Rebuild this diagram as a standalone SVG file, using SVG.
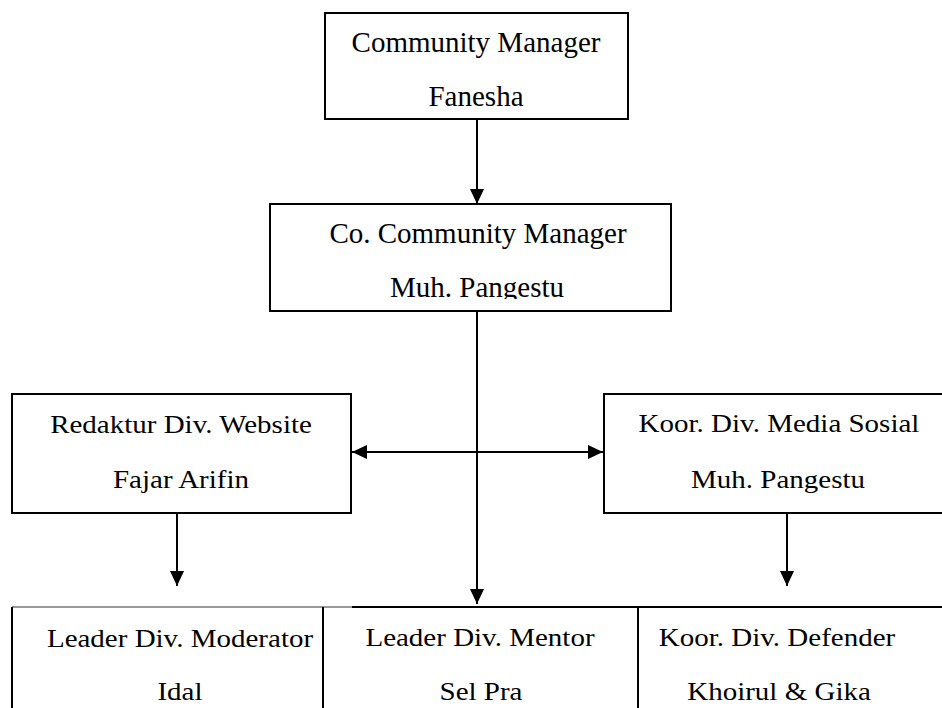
<svg xmlns="http://www.w3.org/2000/svg" width="942" height="708" viewBox="0 0 942 708">
<style>
.box{fill:#fff;stroke:#000;stroke-width:2}
.t{font-family:"Liberation Serif","Times New Roman",serif;font-size:29px;fill:#000;text-anchor:middle}
.c{stroke:#000;stroke-width:2;fill:none}
</style>
<defs>
<marker id="ah" viewBox="0 0 15 14" refX="15" refY="7" markerWidth="15" markerHeight="14" markerUnits="userSpaceOnUse" orient="auto-start-reverse">
<path d="M0,0 L15,7 L0,14 z" fill="#000"/>
</marker>
<clipPath id="clipMid"><rect x="270" y="204" width="402" height="95"/></clipPath>
</defs>
<rect width="942" height="708" fill="#fff"/>
<g id="community-manager">
<rect class="box" x="325" y="13" width="303" height="106"/>
<text class="t" x="476" y="52">Community Manager</text>
<text class="t" x="476" y="106">Fanesha</text>
</g>
<g id="co-community-manager">
<rect class="box" x="270" y="204" width="401" height="107"/>
<text class="t" x="478" y="243">Co. Community Manager</text>
<text class="t" x="477" y="297" clip-path="url(#clipMid)">Muh. Pangestu</text>
</g>
<g id="redaktur-website">
<rect class="box" x="12" y="394" width="339" height="119"/>
<text class="t" transform="translate(181,433) scale(1,0.9)">Redaktur Div. Website</text>
<text class="t" transform="translate(181,488) scale(1,0.9)">Fajar Arifin</text>
</g>
<g id="koor-media-sosial">
<rect class="box" x="604" y="394" width="345" height="119"/>
<text class="t" transform="translate(779,432) scale(1,0.9)">Koor. Div. Media Sosial</text>
<text class="t" transform="translate(778,488) scale(1,0.9)">Muh. Pangestu</text>
</g>
<g id="leader-moderator">
<path d="M12,607 H352" stroke="#333" stroke-width="1.2" fill="none"/>
<path d="M12,607 V710 M323,607 V710" stroke="#000" stroke-width="2" fill="none"/>
<text class="t" transform="translate(180,647) scale(1,0.9)">Leader Div. Moderator</text>
<text class="t" transform="translate(180,700) scale(1,0.9)">Idal</text>
</g>
<g id="leader-mentor">
<path d="M352,607 H638 M638,607 V710" stroke="#000" stroke-width="2" fill="none"/>
<text class="t" transform="translate(480,646) scale(1,0.9)">Leader Div. Mentor</text>
<text class="t" transform="translate(481,700) scale(1,0.9)">Sel Pra</text>
</g>
<g id="koor-defender">
<path d="M638,607 H944" stroke="#000" stroke-width="2" fill="none"/>
<text class="t" transform="translate(777,646) scale(1,0.9)">Koor. Div. Defender</text>
<text class="t" transform="translate(779,700) scale(1,0.9)">Khoirul &amp; Gika</text>
</g>
<g id="connectors">
<line class="c" x1="477" y1="119" x2="477" y2="204" marker-end="url(#ah)"/>
<line class="c" x1="477" y1="311" x2="477" y2="604" marker-end="url(#ah)"/>
<line class="c" x1="352" y1="452" x2="603" y2="452" marker-start="url(#ah)" marker-end="url(#ah)"/>
<line class="c" x1="177" y1="513" x2="177" y2="586" marker-end="url(#ah)"/>
<line class="c" x1="787" y1="513" x2="787" y2="586" marker-end="url(#ah)"/>
</g>
</svg>
